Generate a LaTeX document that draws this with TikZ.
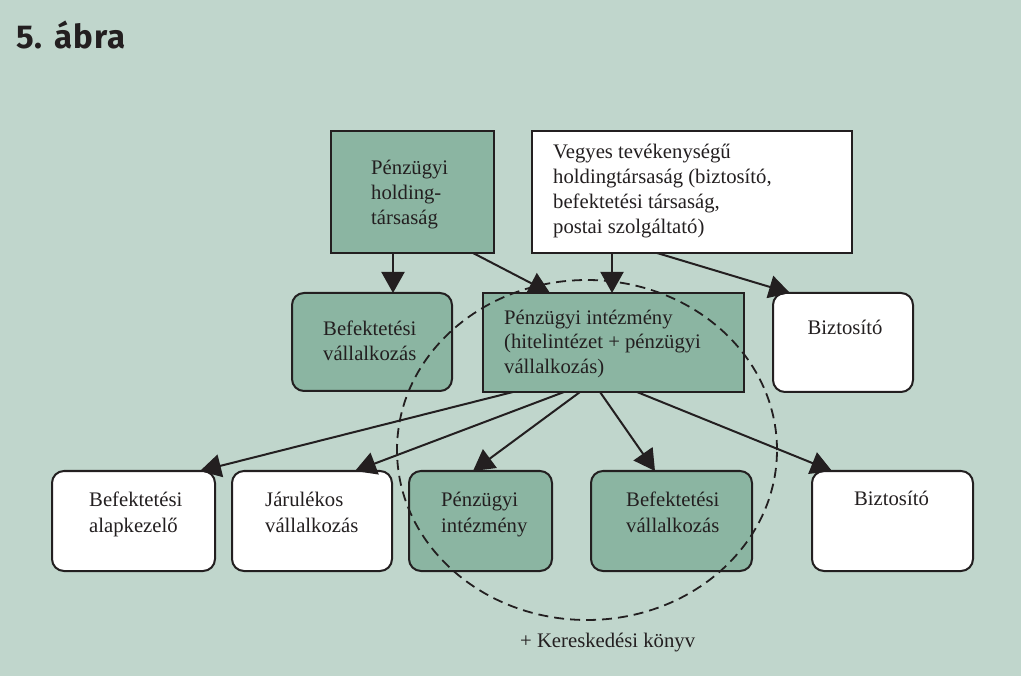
\documentclass[tikz,border=0pt]{standalone}
\usepackage{fontspec}
\setmainfont{Liberation Serif}
\newfontfamily\titlefont[LetterSpace=3]{Fira Sans}
\usetikzlibrary{arrows.meta,calc,shapes.geometric}
\definecolor{bg}{RGB}{192,214,204}
\definecolor{gfill}{RGB}{139,181,162}
\definecolor{ink}{RGB}{35,31,32}
\tikzset{
  box/.style={draw=ink, line width=2pt, anchor=north west, inner sep=0pt, outer sep=0pt},
  gbox/.style={box, fill=gfill},
  wbox/.style={box, fill=white},
  rbox/.style={rounded corners=12pt},
  txt/.style={font=\fontsize{20.7}{25}\selectfont, text=ink, align=left, inner sep=0pt, anchor=base west},
  arr/.style={draw=ink, line width=2pt, -{Triangle[length=21pt,width=23pt]}},
  ring/.style={draw=ink, line width=1.8pt, dash pattern=on 10pt off 6pt},
}
\begin{document}
\begin{tikzpicture}[x=1pt,y=-1pt]
\fill[bg] (0,0) rectangle (1021,676);
\useasboundingbox (0,0) rectangle (1021,676);

\node[font=\titlefont\bfseries\fontsize{33}{38}\selectfont, text=ink, anchor=base west, inner sep=0pt] (title) at (16,49) {5. ábra};

% boxes
\node[gbox, minimum width=163pt, minimum height=122pt] (hold) at (331,131) {};
\node[wbox, minimum width=320pt, minimum height=122pt] (veg) at (532,131) {};
\node[gbox, rbox, minimum width=160pt, minimum height=98pt] (bvt) at (292,293) {};
\node[gbox, minimum width=261pt, minimum height=99pt] (pit) at (483,293) {};
\node[wbox, rbox, minimum width=140pt, minimum height=99pt] (bzt) at (773,293) {};
\node[wbox, rbox, minimum width=163pt, minimum height=100pt] (bal) at (52,471) {};
\node[wbox, rbox, minimum width=160pt, minimum height=100pt] (jar) at (232,471) {};
\node[gbox, rbox, minimum width=143pt, minimum height=100pt] (pib) at (409,471) {};
\node[gbox, rbox, minimum width=161pt, minimum height=100pt] (bvb) at (591,471) {};
\node[wbox, rbox, minimum width=161pt, minimum height=100pt] (bzb) at (812,471) {};

% texts (base anchor = baseline of the last line)
\node[txt] (tHold) at ($(hold.north west)+(40,94)$) {Pénzügyi\\holding-\\társaság};
\node[txt] (tVeg) at ($(veg.north west)+(21,103)$) {Vegyes tevékenységű\\holdingtársaság (biztosító,\\befektetési társaság,\\postai szolgáltató)};
\node[txt] (tBvt) at ($(bvt.north west)+(31,68)$) {Befektetési\\vállalkozás};
\node[txt] (tPit) at ($(pit.north west)+(21,81)$) {Pénzügyi intézmény\\(hitelintézet + pénzügyi\\vállalkozás)};
\node[txt, anchor=base] (tBzt) at ($(bzt.north)+(2,42)$) {Biztosító};
\node[txt] (tBal) at ($(bal.north west)+(37,61)$) {Befektetési\\alapkezelő};
\node[txt] (tJar) at ($(jar.north west)+(33,61)$) {Járulékos\\vállalkozás};
\node[txt] (tPib) at ($(pib.north west)+(32,61)$) {Pénzügyi\\intézmény};
\node[txt] (tBvb) at ($(bvb.north west)+(35,61)$) {Befektetési\\vállalkozás};
\node[txt, anchor=base] (tBzb) at ($(bzb.north)+(-1,34)$) {Biztosító};

% dashed ring
\node[ring, ellipse, minimum width=380pt, minimum height=340pt, inner sep=0pt] (ring) at (587,450) {};
\node[txt] (tKer) at (520,647) {+ Kereskedési könyv};

% arrows
\draw[arr] ($(hold.south west)+(62,0)$) -- ($(bvt.north west)+(101,0)$);
\draw[arr] ($(hold.south west)+(142,0)$) -- ($(pit.north west)+(67,0)$);
\draw[arr] ($(veg.south west)+(80,0)$) -- ($(pit.north west)+(129,0)$);
\draw[arr] ($(veg.south west)+(125,0)$) -- ($(bzt.north west)+(17,0)$);
\draw[arr] ($(pit.south west)+(30,0)$) -- ($(bal.north west)+(148,0)$);
\draw[arr] ($(pit.south west)+(81,0)$) -- ($(jar.north west)+(123,0)$);
\draw[arr] ($(pit.south west)+(97,0)$) -- ($(pib.north west)+(64,0)$);
\draw[arr] ($(pit.south west)+(117,0)$) -- ($(bvb.north west)+(64,0)$);
\draw[arr] ($(pit.south west)+(154,0)$) -- ($(bzb.north west)+(20,0)$);
\end{tikzpicture}
\end{document}
